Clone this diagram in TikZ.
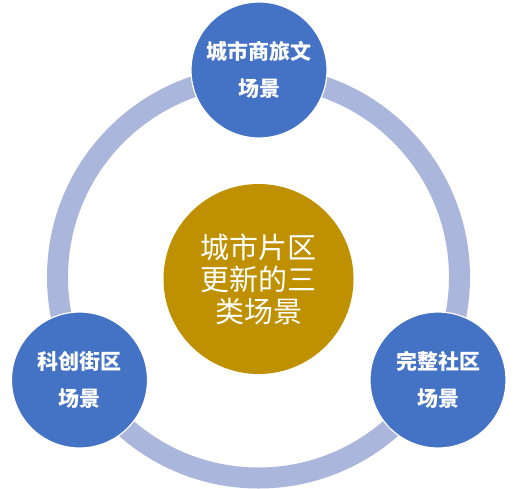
\documentclass[tikz,border=0pt]{standalone}
\usepackage{fontspec}
\newfontfamily\cjk{Noto Sans CJK SC}
\usepackage{tikz}
\usetikzlibrary{positioning}

\definecolor{SceneBlue}{HTML}{4472C4}
\definecolor{RingBlue}{HTML}{AAB6DB}
\definecolor{HubGold}{HTML}{BF9000}

\tikzset{
  scene/.style={circle,fill=SceneBlue,draw=white,line width=1.2pt,text=white,
    minimum size=136pt,inner sep=0pt,align=center,
    font=\cjk\bfseries\fontsize{21}{37}\selectfont},
  hub/.style={circle,fill=HubGold,text=white,minimum size=190pt,inner sep=0pt,
    align=center,font=\cjk\fontsize{29}{32}\selectfont},
  ring/.style={RingBlue,line width=21pt}
}

\begin{document}
\begin{tikzpicture}[x=1pt,y=-1pt]
    \useasboundingbox (0,0) rectangle (518,488);
    \coordinate (centre) at (258.5,277);
    \draw[ring] (centre) circle (201pt);
    \node[hub] (renew) at (258.5,279) {城市片区\\更新的三\\类场景};
    \foreach \name/\x/\y/\txt in {
      cultural/259/70/城市商旅文,
      innovation/79.5/380/科创街区,
      community/438/380/完整社区}{%
      \node[scene] (\name) at (\x,\y) {\txt\\场景};
    }
  \end{tikzpicture}
\end{document}
